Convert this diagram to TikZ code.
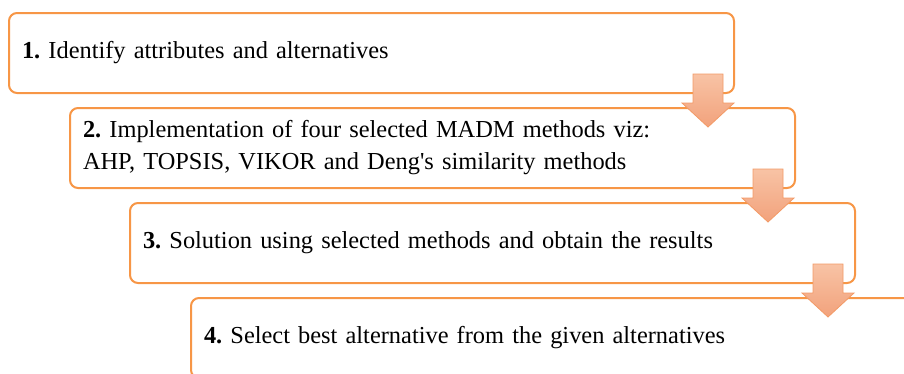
\documentclass[tikz,border=0pt]{standalone}
\usepackage{fontspec}
\setmainfont{Liberation Serif}
\usetikzlibrary{positioning,calc}
\definecolor{peach}{HTML}{F79646}
\definecolor{peachtop}{HTML}{F8C3A5}
\definecolor{peachbot}{HTML}{F2A27C}
\definecolor{peachedge}{HTML}{F39A66}

\begin{document}
\frenchspacing
\begin{tikzpicture}[x=1pt,y=1pt,
  stepbox/.style={rectangle,rounded corners=8pt,draw=peach,line width=2pt,fill=white,minimum height=80pt,text width=699pt,inner xsep=13pt,inner ysep=0pt,outer sep=0pt,align=left,anchor=north west,font=\fontsize{24.4}{32}\selectfont},
  dnarr/.style={draw=peachedge,line width=0.8pt,top color=peachtop,bottom color=peachbot}]
\useasboundingbox (0,0) rectangle (904,-373);
\clip (0,0) rectangle (904,-373);
% steps
\node[stepbox] (s1) at (9,-13) {\textbf{1.} Identify attributes and alternatives};
\node[stepbox,below=15pt of s1.south west,anchor=north west,xshift=61pt] (s2) {\textbf{2.} Implementation of four selected MADM methods viz:\\AHP, TOPSIS, VIKOR and Deng\textquotesingle s similarity methods};
\coordinate (a1) at ($(s1.south east)+(-26,0)$);
\draw[dnarr] ($(a1)+(-15,19)$) -- ++(30,0) -- ++(0,-29) -- ++(11,0) -- ($(a1)+(0,-34)$) -- ($(a1)+(-26,-10)$) -- ++(11,0) -- cycle;
\node[stepbox,below=15pt of s2.south west,anchor=north west,xshift=60pt] (s3) {\textbf{3.} Solution using selected methods and obtain the results};
\coordinate (a2) at ($(s2.south east)+(-27,0)$);
\draw[dnarr] ($(a2)+(-15,19)$) -- ++(30,0) -- ++(0,-29) -- ++(11,0) -- ($(a2)+(0,-34)$) -- ($(a2)+(-26,-10)$) -- ++(11,0) -- cycle;
\node[stepbox,below=15pt of s3.south west,anchor=north west,xshift=61pt] (s4) {\textbf{4.} Select best alternative from the given alternatives};
\coordinate (a3) at ($(s3.south east)+(-27,0)$);
\draw[dnarr] ($(a3)+(-15,19)$) -- ++(30,0) -- ++(0,-29) -- ++(11,0) -- ($(a3)+(0,-34)$) -- ($(a3)+(-26,-10)$) -- ++(11,0) -- cycle;
\end{tikzpicture}
\end{document}
